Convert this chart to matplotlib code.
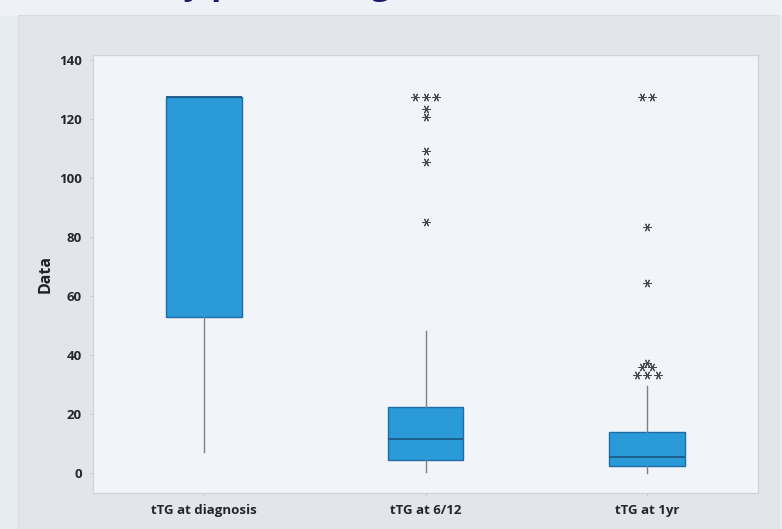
import matplotlib
matplotlib.use("Agg")
import matplotlib.pyplot as plt
from matplotlib.patches import Rectangle
import numpy as np

# Summary statistics per time point
categories = ["tTG at diagnosis", "tTG at 6/12", "tTG at 1yr"]
whisker_low = [7.0, 0.2, 0.0]
q1_values = [53.0, 4.4, 2.4]
medians = [127.5, 11.4, 5.3]
q3_values = [127.5, 22.5, 13.8]
whisker_high = [127.5, 48.0, 29.5]

# Individual outliers per time point
outliers = [
    [],
    [127.5, 127.5, 127.5, 123.5, 120.8, 109.0, 105.5, 85.2],
    [127.5, 127.5, 83.5, 64.5, 37.4, 35.8, 35.8, 33.3, 33.3, 33.3],
]

y_ticks = [0, 20, 40, 60, 80, 100, 120, 140]

W, H = 782, 529
fig = plt.figure(figsize=(W / 100, H / 100), dpi=100)
fig.patch.set_facecolor("#e6ecf2")

# slide backdrop and chart panel
fig.patches.append(Rectangle((0, 1 - 16 / H), 1, 16 / H, transform=fig.transFigure,
                             facecolor="#eef2f8", edgecolor="none", zorder=-10))
fig.patches.append(Rectangle((18 / W, 0), 760 / W, 1 - 15 / H, transform=fig.transFigure,
                             facecolor="#e2e6eb", edgecolor="#d8dde3", lw=0.8, zorder=-9))

# slide heading, mostly above the top edge
fig.text(33 / W, 1 + 5.5 / H, "Results by presenting tTG", fontsize=24,
         fontweight="bold", color="#1b1a66", family="Open Sans",
         ha="left", va="baseline", zorder=5)

ax = fig.add_axes([93 / W, 1 - 493 / H, (758 - 93) / W, (493 - 55) / H])
ax.set_zorder(2)
ax.set_facecolor("#f1f4f9")

positions = np.arange(1, len(categories) + 1)
stats = []
for i, cat in enumerate(categories):
    stats.append(dict(label=cat, whislo=whisker_low[i], q1=q1_values[i],
                      med=medians[i], q3=q3_values[i], whishi=whisker_high[i],
                      fliers=[]))

ax.bxp(stats, positions=positions, widths=0.34, showfliers=False,
       patch_artist=True, showcaps=False,
       boxprops=dict(facecolor="#2b9ad8", edgecolor="#1f6ca6", linewidth=1.0),
       medianprops=dict(color="#1d5b88", linewidth=1.3),
       whiskerprops=dict(color="#7d8186", linewidth=1.0))

# outliers: tied values spread sideways, as in the stacked-asterisk style
step = 0.047
for pos, vals in zip(positions, outliers):
    uniq = sorted(set(vals))
    for v in uniq:
        n = vals.count(v)
        offs = (np.arange(n) - (n - 1) / 2) * step
        ax.plot(pos + offs, [v] * n, linestyle="none", marker=(6, 2, 30),
                markersize=6, markeredgewidth=0.75, color="#45484d", zorder=4)

ax.set_xlim(0.5, 3.5)
ax.set_ylim(-6.8, 141.7)
ax.set_yticks(y_ticks)
ax.set_xticks(positions)
ax.set_xticklabels(categories)

for lab in ax.get_yticklabels() + ax.get_xticklabels():
    lab.set_fontfamily("Open Sans")
    lab.set_fontweight("bold")
    lab.set_fontsize(9.5)
    lab.set_color("#26262a")

ax.tick_params(axis="y", length=2, width=0.8, color="#c4c9cf", pad=6)
ax.tick_params(axis="x", length=2, width=0.8, color="#c4c9cf", pad=6)
ax.set_ylabel("Data", fontsize=11.5, fontweight="bold", family="Open Sans",
              color="#222226", labelpad=4)

for side in ["left", "bottom", "right", "top"]:
    ax.spines[side].set_color("#cfd4da")
    ax.spines[side].set_linewidth(0.9)

fig.savefig("out.png", dpi=100, facecolor=fig.get_facecolor())
